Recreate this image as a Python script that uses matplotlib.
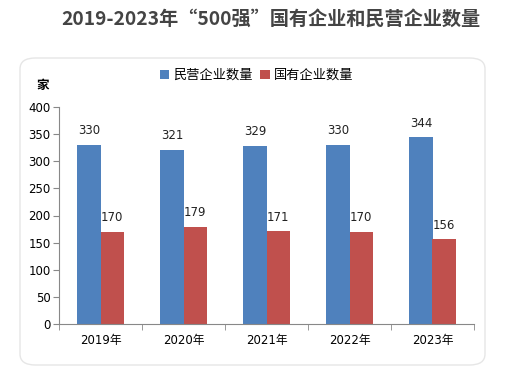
import numpy as np
import matplotlib.pyplot as plt
from matplotlib.patches import FancyBboxPatch

plt.rcParams['font.family'] = ['DejaVu Sans', 'Noto Sans CJK SC']

years = ['2019年', '2020年', '2021年', '2022年', '2023年']
private = [330, 321, 329, 330, 344]
state = [170, 179, 171, 170, 156]

blue = '#4F81BD'
red = '#C0504D'

fig = plt.figure(figsize=(5.14, 3.66), dpi=100)
W, H = 514, 366

# rounded panel behind the chart
box = FancyBboxPatch((20/W, 1-365/H), 465/W, 307/H,
                     boxstyle='round,pad=0,rounding_size=0.03',
                     transform=fig.transFigure, fc='white', ec='#e6e6e6', lw=1,
                     zorder=-1)
fig.patches.append(box)

fig.text(271/W, 1-19/H, '2019-2023年“500强”国有企业和民营企业数量',
         ha='center', va='center', fontsize=13.8, fontweight='bold',
         color='#444444', family=['Noto Sans CJK SC', 'DejaVu Sans'])

ax = fig.add_axes([59/W, 1-324/H, 415/W, 217/H])
ax.patch.set_alpha(0)
x = np.arange(len(years))
bw = 0.28
b1 = ax.bar(x - bw/2, private, bw, color=blue, label='民营企业数量')
b2 = ax.bar(x + bw/2, state, bw, color=red, label='国有企业数量')
for bars in (b1, b2):
    for r in bars:
        ax.annotate(str(int(r.get_height())), (r.get_x() + r.get_width()/2, r.get_height()),
                    xytext=(0, 5.5), textcoords='offset points', ha='center', va='bottom',
                    fontsize=8.5, color='#222222')

ax.set_xlim(-0.5, 4.5)
ax.set_ylim(0, 400)
ax.set_yticks(range(0, 401, 50))
ax.set_xticks(x)
ax.set_xticklabels(years)
ax.set_xticks(np.arange(-0.5, 5, 1), minor=True)
ax.tick_params(axis='x', which='major', length=0, pad=7, labelsize=8.5)
ax.tick_params(axis='x', which='minor', length=4, color='#888888')
ax.tick_params(axis='y', length=4, color='#888888', labelsize=8.5, pad=2)
for s in ('top', 'right'):
    ax.spines[s].set_visible(False)
for s in ('left', 'bottom'):
    ax.spines[s].set_color('#888888')

ax.text(-0.04, 1.10, '家', transform=ax.transAxes, fontsize=9, fontweight='bold',
        ha='center', va='center')

ax.legend(loc='center', bbox_to_anchor=(0.476, 1.145), ncol=2, frameon=False,
          fontsize=9.5, handlelength=0.7, handleheight=0.7, handletextpad=0.3,
          columnspacing=0.6, borderaxespad=0)

fig.savefig('out.png', dpi=100)
